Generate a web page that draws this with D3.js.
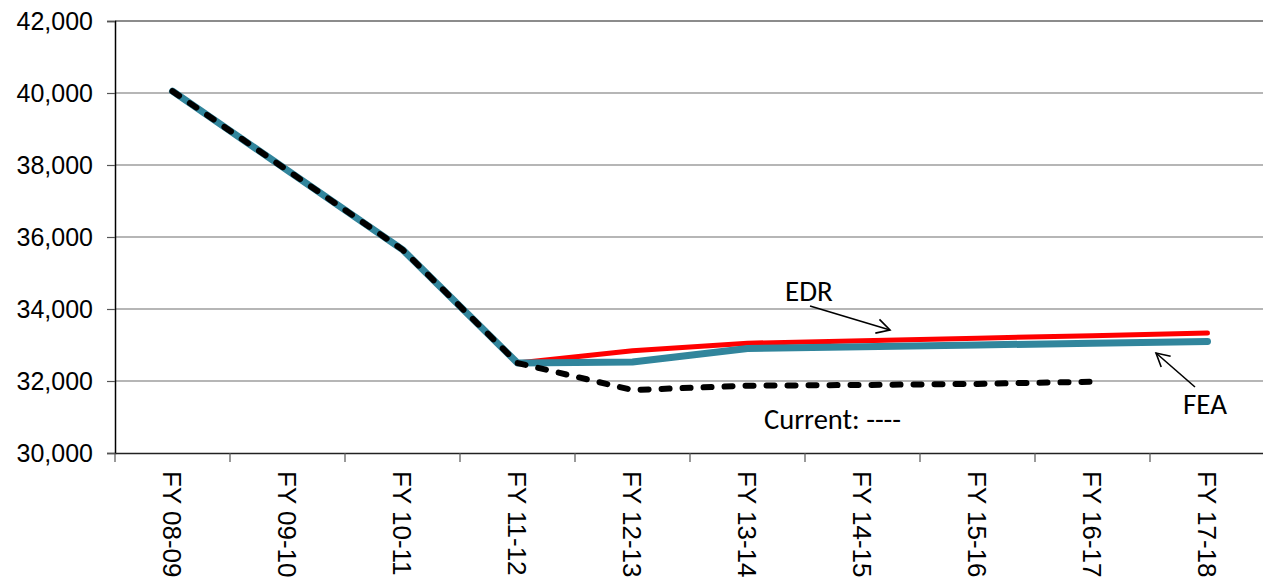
<!DOCTYPE html>
<html>
<head>
<meta charset="utf-8">
<script src="https://cdn.jsdelivr.net/npm/d3@7/dist/d3.min.js"></script>
<style>
  html, body { margin: 0; padding: 0; background: #fff; }
  svg { display: block; }
</style>
</head>
<body>
<svg id="chart" width="1263" height="583"></svg>
<script>
const categories = ["FY 08-09","FY 09-10","FY 10-11","FY 11-12","FY 12-13","FY 13-14","FY 14-15","FY 15-16","FY 16-17","FY 17-18"];
const edrValues     = [40050, 37850, 35650, 32500, 32840, 33050, 33120, 33190, 33260, 33330];
const feaValues     = [40050, 37850, 35650, 32500, 32530, 32900, 32950, 33000, 33050, 33100];
const currentValues = [40050, 37850, 35650, 32500, 31750, 31870, 31890, 31920, 31980, null];
const yTicks = [30000, 32000, 34000, 36000, 38000, 40000, 42000];

const margin = {left: 115, top: 21};
const svg = d3.select("#chart");
const plotW = 1150, plotH = 432;

const x = d3.scaleBand().domain(categories).range([margin.left, margin.left + plotW]).padding(0);
const y = d3.scaleLinear().domain([30000, 42000]).range([margin.top + plotH, margin.top]);
const fmt = d3.format(",");

// gridlines
svg.append("g").selectAll("line").data(yTicks.filter(d => d > 30000)).join("line")
  .attr("x1", margin.left).attr("x2", margin.left + plotW)
  .attr("y1", d => y(d)).attr("y2", d => y(d))
  .attr("stroke", d => d === 42000 ? "#8c8c8c" : "#6e6e6e")
  .attr("stroke-width", d => d === 42000 ? 2 : 1.2);

// y axis
const yAxis = d3.axisLeft(y).tickValues(yTicks).tickFormat(fmt).tickSize(8).tickPadding(14);
const gy = svg.append("g").attr("transform", `translate(${margin.left},0)`).call(yAxis);
gy.select(".domain").attr("stroke", "#000").attr("stroke-width", 1.5);
gy.selectAll(".tick line").attr("stroke", "#555").attr("stroke-width", 1.2);
gy.selectAll("text").attr("font-family", "'Liberation Sans', Arial, sans-serif").attr("font-size", 25).attr("fill", "#000");

// x axis
const xAxis = d3.axisBottom(x).tickSize(0).tickFormat("");
const gx = svg.append("g").attr("transform", `translate(0,${margin.top + plotH})`).call(xAxis);
gx.select(".domain").attr("stroke", "#222").attr("stroke-width", 1.5);
const bounds = categories.map(c => x(c)).concat([x(categories[categories.length-1]) + x.bandwidth()]);
gx.selectAll(".bnd").data(bounds).join("line").attr("class","bnd")
  .attr("x1", d => d).attr("x2", d => d).attr("y1", 0).attr("y2", 9)
  .attr("stroke", "#555").attr("stroke-width", 1.2);
gx.selectAll(".xl").data(categories).join("text").attr("class","xl")
  .attr("transform", d => `translate(${x(d) + x.bandwidth()/2},18) rotate(90)`)
  .attr("dy", "0.36em")
  .attr("text-anchor", "start")
  .attr("font-family", "'Liberation Sans', Arial, sans-serif")
  .attr("font-size", 26)
  .attr("fill", "#000")
  .text(d => d);

// lines
const cx = d => x(d) + x.bandwidth()/2;
const line = d3.line().defined(d => d.v != null).x(d => cx(d.c)).y(d => y(d.v));
const series = (vals) => categories.map((c, i) => ({c, v: vals[i]}));

svg.append("path").datum(series(edrValues)).attr("d", line)
  .attr("fill", "none").attr("stroke", "#ff0000").attr("stroke-width", 5)
  .attr("stroke-linecap", "round").attr("stroke-linejoin", "round");
svg.append("path").datum(series(feaValues)).attr("d", line)
  .attr("fill", "none").attr("stroke", "#31859c").attr("stroke-width", 7)
  .attr("stroke-linecap", "round").attr("stroke-linejoin", "round");
svg.append("path").datum(series(currentValues)).attr("d", line)
  .attr("fill", "none").attr("stroke", "#000").attr("stroke-width", 6)
  .attr("stroke-dasharray", "8 13")
  .attr("stroke-linecap", "round").attr("stroke-linejoin", "round");

// annotations
const annFont = "Carlito, Lato, 'Noto Sans', sans-serif";
svg.append("text").attr("x", 785).attr("y", 301).attr("font-family", annFont).attr("font-size", 29).text("EDR");
svg.append("text").attr("x", 764).attr("y", 429).attr("font-family", annFont).attr("font-size", 28.5).text("Current: ----");
svg.append("text").attr("x", 1183).attr("y", 414).attr("font-family", annFont).attr("font-size", 29).text("FEA");

function arrow(x1, y1, x2, y2) {
  const g = svg.append("g").attr("stroke", "#000").attr("stroke-width", 1.6).attr("fill", "none");
  g.append("line").attr("x1", x1).attr("y1", y1).attr("x2", x2).attr("y2", y2);
  const a = Math.atan2(y2 - y1, x2 - x1), L = 15, s = 0.5;
  g.append("polyline").attr("points", [
    [x2 - L*Math.cos(a - s), y2 - L*Math.sin(a - s)], [x2, y2],
    [x2 - L*Math.cos(a + s), y2 - L*Math.sin(a + s)]].map(p => p.join(",")).join(" "));
}
arrow(810, 306, 890, 330);
arrow(1195, 387, 1156, 353);
</script>
</body>
</html>
